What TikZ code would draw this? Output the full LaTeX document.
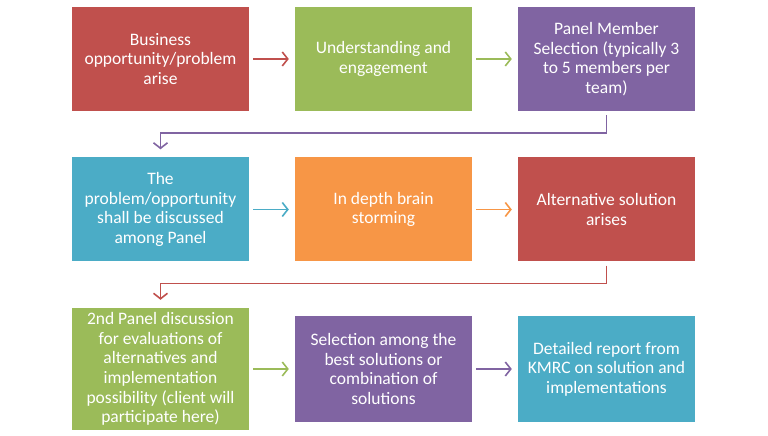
\documentclass[tikz,border=0pt]{standalone}
\usepackage{fontspec}
\setmainfont{Carlito}
\usetikzlibrary{arrows.meta}
\definecolor{cred}{HTML}{C0504D}
\definecolor{cgreen}{HTML}{9BBB59}
\definecolor{cpurple}{HTML}{8064A2}
\definecolor{caqua}{HTML}{4BACC6}
\definecolor{corange}{HTML}{F79646}
\begin{document}
\begin{tikzpicture}[x=1pt,y=1pt,
  stepbox/.style={rectangle, inner sep=0pt, minimum width=177pt, minimum height=104pt,
    text=white, align=center, font=\fontsize{17.5}{19.6}\selectfont},
  flow/.style={-{Straight Barb[length=5.5pt,width=14pt]}, line width=1.6pt, shorten <=4pt, shorten >=6pt},
  elbow/.style={-{Straight Barb[length=5.5pt,width=14pt]}, line width=1.6pt, shorten <=4pt, shorten >=8pt}
]
\useasboundingbox (0,0) rectangle (768,436);
% row 1
\node[stepbox, fill=cred]    (b1) at (160.5,377) {Business\\opportunity/problem\\arise};
\node[stepbox, fill=cgreen]  (b2) at (383.5,377) {Understanding and\\engagement};
\node[stepbox, fill=cpurple] (b3) at (606.5,377) {Panel Member\\Selection (typically 3\\to 5 members per\\team)};
% row 2
\node[stepbox, fill=caqua]   (b4) at (160.5,226.5) {The\\problem/opportunity\\shall be discussed\\among Panel};
\node[stepbox, fill=corange] (b5) at (383.5,226.5) {In depth brain\\storming};
\node[stepbox, fill=cred]    (b6) at (606.5,226.5) {Alternative solution\\arises};
% row 3
\node[stepbox, fill=cgreen, minimum height=122pt] (b7) at (160.5,67) {2nd Panel discussion\\for evaluations of\\alternatives and\\implementation\\possibility (client will\\participate here)};
\node[stepbox, fill=cpurple, minimum height=106pt] (b8) at (383.5,67) {Selection among the\\best solutions or\\combination of\\solutions};
\node[stepbox, fill=caqua, minimum height=106pt] (b9) at (606.5,67) {Detailed report from\\KMRC on solution and\\implementations};
% connectors
\draw[flow, draw=cred]    (b1) -- (b2);
\draw[flow, draw=cgreen]  (b2) -- (b3);
\draw[elbow, draw=cpurple] (b3.south) -- ++(0,-22) -| (b4.north);
\draw[flow, draw=caqua]   (b4) -- (b5);
\draw[flow, draw=corange] (b5) -- (b6);
\draw[elbow, draw=cred]   (b6.south) -- ++(0,-22) -| (b7.north);
\draw[flow, draw=cgreen]  (b7) -- (b8);
\draw[flow, draw=cpurple] (b8) -- (b9);
\end{tikzpicture}
\end{document}
